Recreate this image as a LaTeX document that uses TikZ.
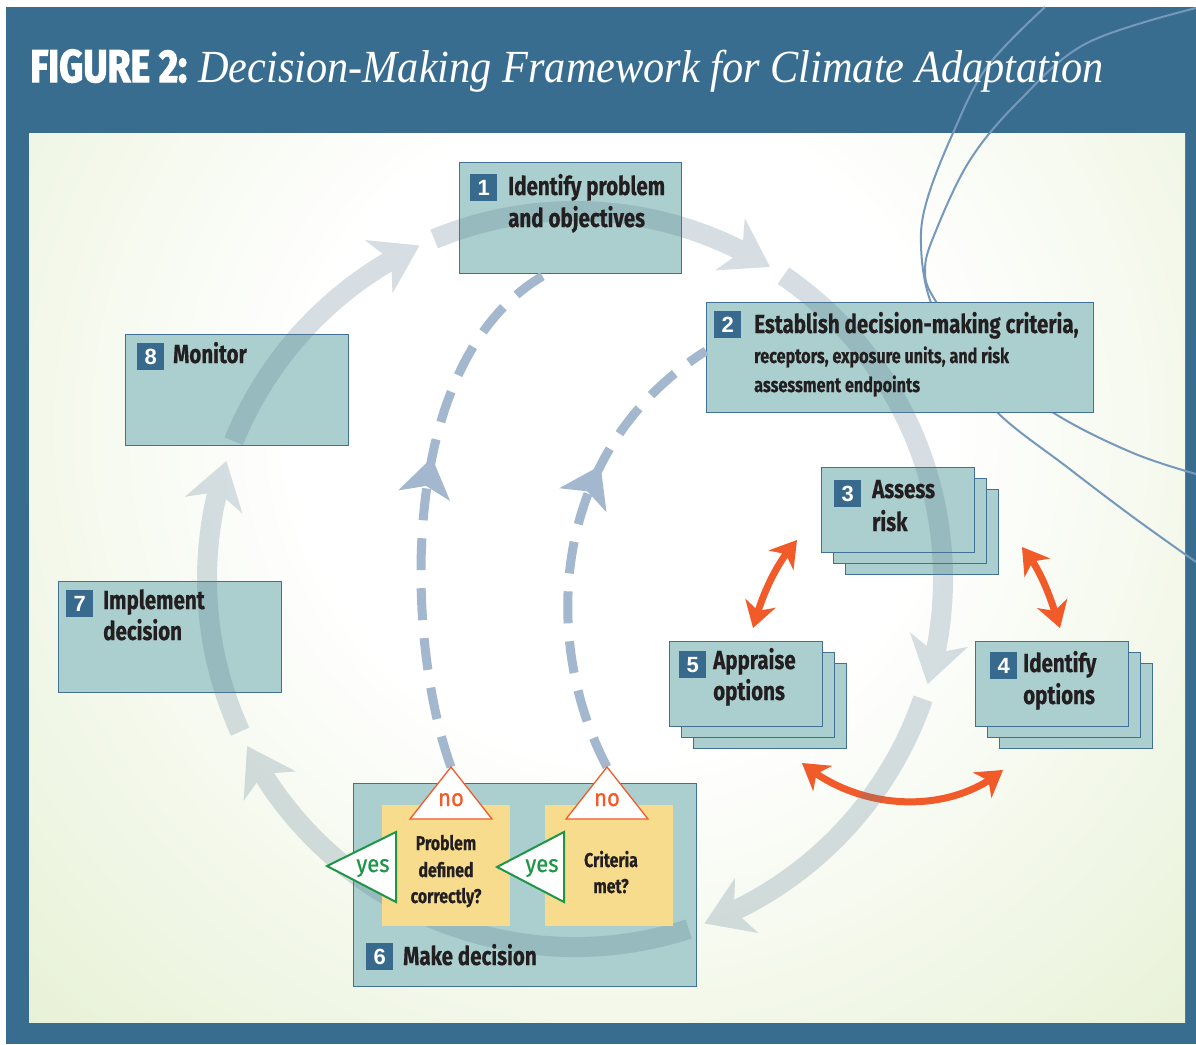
\documentclass[tikz,border=0pt]{standalone}
\usepackage{fontspec}
\setmainfont{Liberation Serif}
\newfontfamily\itf[FakeStretch=0.92]{Liberation Serif}
\newfontfamily\cf[FakeStretch=0.79,FakeBold=0.5]{Fira Sans}
\newfontfamily\yf[FakeStretch=0.92,FakeBold=0.8]{Fira Sans}
\newfontfamily\tf[FakeStretch=0.81,FakeBold=2.5]{Fira Sans}
\newfontfamily\nf{Liberation Sans}
\usetikzlibrary{arrows.meta,bending,decorations.markings}
\definecolor{frameblue}{RGB}{57,109,143}
\definecolor{panelgreen}{RGB}{217,233,190}
\definecolor{boxfill}{RGB}{171,207,206}
\definecolor{boxline}{RGB}{66,112,150}
\definecolor{numblue}{RGB}{56,106,142}
\definecolor{ylw}{RGB}{247,220,141}
\definecolor{orng}{RGB}{241,90,41}
\definecolor{grn}{RGB}{30,150,72}
\definecolor{dashblue}{RGB}{163,184,206}
\definecolor{decoline}{RGB}{118,152,187}
\definecolor{bandcol}{RGB}{93,127,149}
\definecolor{txt}{RGB}{35,31,32}
\pgfdeclareradialshading{panelshade}{\pgfpoint{0bp}{0bp}}{color(0bp)=(white); color(7bp)=(white); color(25bp)=(panelgreen); color(50bp)=(panelgreen)}
\tikzset{
  box/.style={draw=boxline, fill=boxfill, line width=1.3, inner sep=0, anchor=north west},
  num/.style={fill=numblue, text=white, inner sep=0, minimum width=27, minimum height=27, anchor=north west, font=\nf\bfseries\fontsize{22}{22}\selectfont},
  lbl/.style={anchor=base west, inner sep=0, text=txt, font=\cf\bfseries\fontsize{26}{26}\selectfont},
  lbls/.style={anchor=base west, inner sep=0, text=txt, font=\cf\bfseries\fontsize{20.5}{20.5}\selectfont},
  qtxt/.style={anchor=base, inner sep=0, text=txt, font=\cf\bfseries\fontsize{20}{20}\selectfont},
  notxt/.style={anchor=base, inner sep=0, text=orng, font=\yf\fontsize{24}{24}\selectfont},
  yestxt/.style={anchor=base, inner sep=0, text=grn, font=\yf\fontsize{24}{24}\selectfont},
  notri/.style={draw=orng, fill=white, line width=1.3, line join=miter},
  yestri/.style={draw=grn, fill=white, line width=2, line join=miter},
  ylwbox/.style={fill=ylw, inner sep=0, anchor=north west, minimum width=128, minimum height=121},
  decol/.style={draw=decoline, line width=2},
  dashconn/.style={draw=dashblue, line width=9, dash pattern=on 32 off 18},
  orarrow/.style={draw=orng, line width=7, {Stealth[length=26,width=32,inset=8,line width=0pt]}-{Stealth[length=26,width=32,inset=8,line width=0pt]}},
  band/.style={draw=bandcol, line width=20, -{Stealth[length=46,width=60,inset=14,line width=0pt]}}
}
\begin{document}
\begin{tikzpicture}[x=1pt,y=-1pt]
\useasboundingbox (0,0) rectangle (1196,1044);
\fill[white] (0,0) rectangle (1196,1044);
\fill[frameblue] (6,7) rectangle (1196,1044);
% panel
\fill[panelgreen] (29,133) rectangle (1185,1022);
\begin{scope}
  \clip (29,133) rectangle (1185,1022);
  \shade[shading=panelshade] (620,430) circle[radius=1150];
\end{scope}
% decorative lines
\draw[decol] plot[smooth, tension=0.6] coordinates {(1045,7) (987,67) (953,133) (927,200) (921,245) (930,300) (960,360) (998,413) (1067,467) (1133,517) (1196,562)};
\draw[decol] plot[smooth, tension=0.6] coordinates {(1196,8) (1087,43) (1020,100) (970,160) (935,233) (925,270) (935,300) (980,360) (1057,415) (1133,453) (1196,474)};
% title
\node[anchor=base west, inner sep=0, text=white, font=\tf\bfseries\fontsize{46}{46}\selectfont] (fig) at (30,82) {FIGURE 2:};
\node[anchor=base west, inner sep=0, text=white, font=\itf\itshape\fontsize{46}{46}\selectfont] (ttl) at (198,82) {Decision-Making Framework for Climate Adaptation};
% boxes
\node[box, minimum width=222, minimum height=111] (b1) at (459,162) {};
\node[box, minimum width=387, minimum height=110] (b2) at (706,302) {};
\node[box, minimum width=153, minimum height=85] (b3c) at (845,489) {};
\node[box, minimum width=153, minimum height=85] (b3b) at (833,478) {};
\node[box, minimum width=153, minimum height=85] (b3) at (821,467) {};
\node[box, minimum width=153, minimum height=85] (b5c) at (693,663) {};
\node[box, minimum width=153, minimum height=85] (b5b) at (681,652) {};
\node[box, minimum width=153, minimum height=85] (b5) at (669,641) {};
\node[box, minimum width=153, minimum height=85] (b4c) at (999,663) {};
\node[box, minimum width=153, minimum height=85] (b4b) at (987,652) {};
\node[box, minimum width=153, minimum height=85] (b4) at (975,641) {};
\node[box, minimum width=223, minimum height=111] (b8) at (125,334) {};
\node[box, minimum width=223, minimum height=111] (b7) at (58,581) {};
\node[box, minimum width=343, minimum height=203] (b6) at (353,783) {};
% triangle apexes
\coordinate (no1) at (451,767);
\coordinate (no2) at (607,767);
% dashed feedback connectors
\draw[dashconn, decoration={markings, mark=at position 0.585 with {\arrow{Stealth[length=39,width=53,inset=10,line width=0pt]}}}, postaction=decorate]
  (no1) .. controls (405,640) and (395,360) .. (b1.-114);
\draw[dashconn, decoration={markings, mark=at position 0.665 with {\arrow{Stealth[length=39,width=53,inset=10,line width=0pt]}}}, postaction=decorate]
  (no2) .. controls (540,640) and (550,450) .. (b2.178);
% orange double arrows
\coordinate (o1s) at (753,628); \coordinate (o1e) at (797,540);
\coordinate (o2s) at (1060,628); \coordinate (o2e) at (1022,547);
\coordinate (o3s) at (802,763); \coordinate (o3e) at (1003,770);
\draw[orarrow] (o1s) .. controls (762,595) and (775,565) .. (o1e);
\draw[orarrow] (o2s) .. controls (1050,595) and (1040,568) .. (o2e);
\draw[orarrow] (o3s) .. controls (860,812) and (950,815) .. (o3e);
% big cycle band
\coordinate (cc) at (575,579);
\begin{scope}[transparency group, opacity=0.25]
  \draw[band] (cc) ++(-158:368) arc[start angle=-158, end angle=-115, radius=368];
  \draw[band] (cc) ++(-112.5:368) arc[start angle=-112.5, end angle=-58, radius=368];
  \draw[band] (cc) ++(-55.5:368) arc[start angle=-55.5, end angle=16.6, radius=368];
  \draw[band] (cc) ++(19:368) arc[start angle=19, end angle=69.4, radius=368];
  \draw[band] (cc) ++(72:368) arc[start angle=72, end angle=153, radius=368];
  \draw[band] (cc) ++(155.5:368) arc[start angle=155.5, end angle=198.7, radius=368];
\end{scope}
% box 6 contents
\node[ylwbox] (y1) at (382,805) {};
\node[ylwbox] (y2) at (545,805) {};
\draw[notri] (no1) -- (492,819) -- (410,819) -- cycle;
\draw[notri] (no2) -- (648,819) -- (566,819) -- cycle;
\draw[yestri] (327,866) -- (396,832) -- (396,902) -- cycle;
\draw[yestri] (497,867) -- (564,832) -- (564,902) -- cycle;
\node[notxt] (nol1) at (451,806) {no};
\node[notxt] (nol2) at (607,806) {no};
\node[yestxt] (yl1) at (373,872) {yes};
\node[yestxt] (yl2) at (542,872) {yes};
\node[qtxt] (q1a) at (446,850) {Problem};
\node[qtxt] (q1b) at (446,877) {defined};
\node[qtxt] (q1c) at (446,903) {correctly?};
\node[qtxt] (q2a) at (611,867) {Criteria};
\node[qtxt] (q2b) at (611,893) {met?};
% numbers and labels
\node[num] (n1) at (470,174) {1};
\node[lbl] (t1a) at (508,195) {Identify problem};
\node[lbl] (t1b) at (508,227) {and objectives};
\node[num] (n2) at (714,311) {2};
\node[lbl] (t2a) at (754,333) {Establish decision-making criteria,};
\node[lbls] (t2b) at (754,363) {receptors, exposure units, and risk};
\node[lbls] (t2c) at (754,392) {assessment endpoints};
\node[num] (n3) at (834,480) {3};
\node[lbl] (t3a) at (872,498) {Assess};
\node[lbl] (t3b) at (872,531) {risk};
\node[num] (n5) at (679,651) {5};
\node[lbl] (t5a) at (713,669) {Appraise};
\node[lbl] (t5b) at (713,700) {options};
\node[num] (n4) at (990,652) {4};
\node[lbl] (t4a) at (1023,672) {Identify};
\node[lbl] (t4b) at (1023,704) {options};
\node[num] (n8) at (137,343) {8};
\node[lbl] (t8a) at (173,363) {Monitor};
\node[num] (n7) at (66,590) {7};
\node[lbl] (t7a) at (103,609) {Implement};
\node[lbl] (t7b) at (103,640) {decision};
\node[num] (n6) at (366,943) {6};
\node[lbl] (t6a) at (403,965) {Make decision};
\end{tikzpicture}
\end{document}
